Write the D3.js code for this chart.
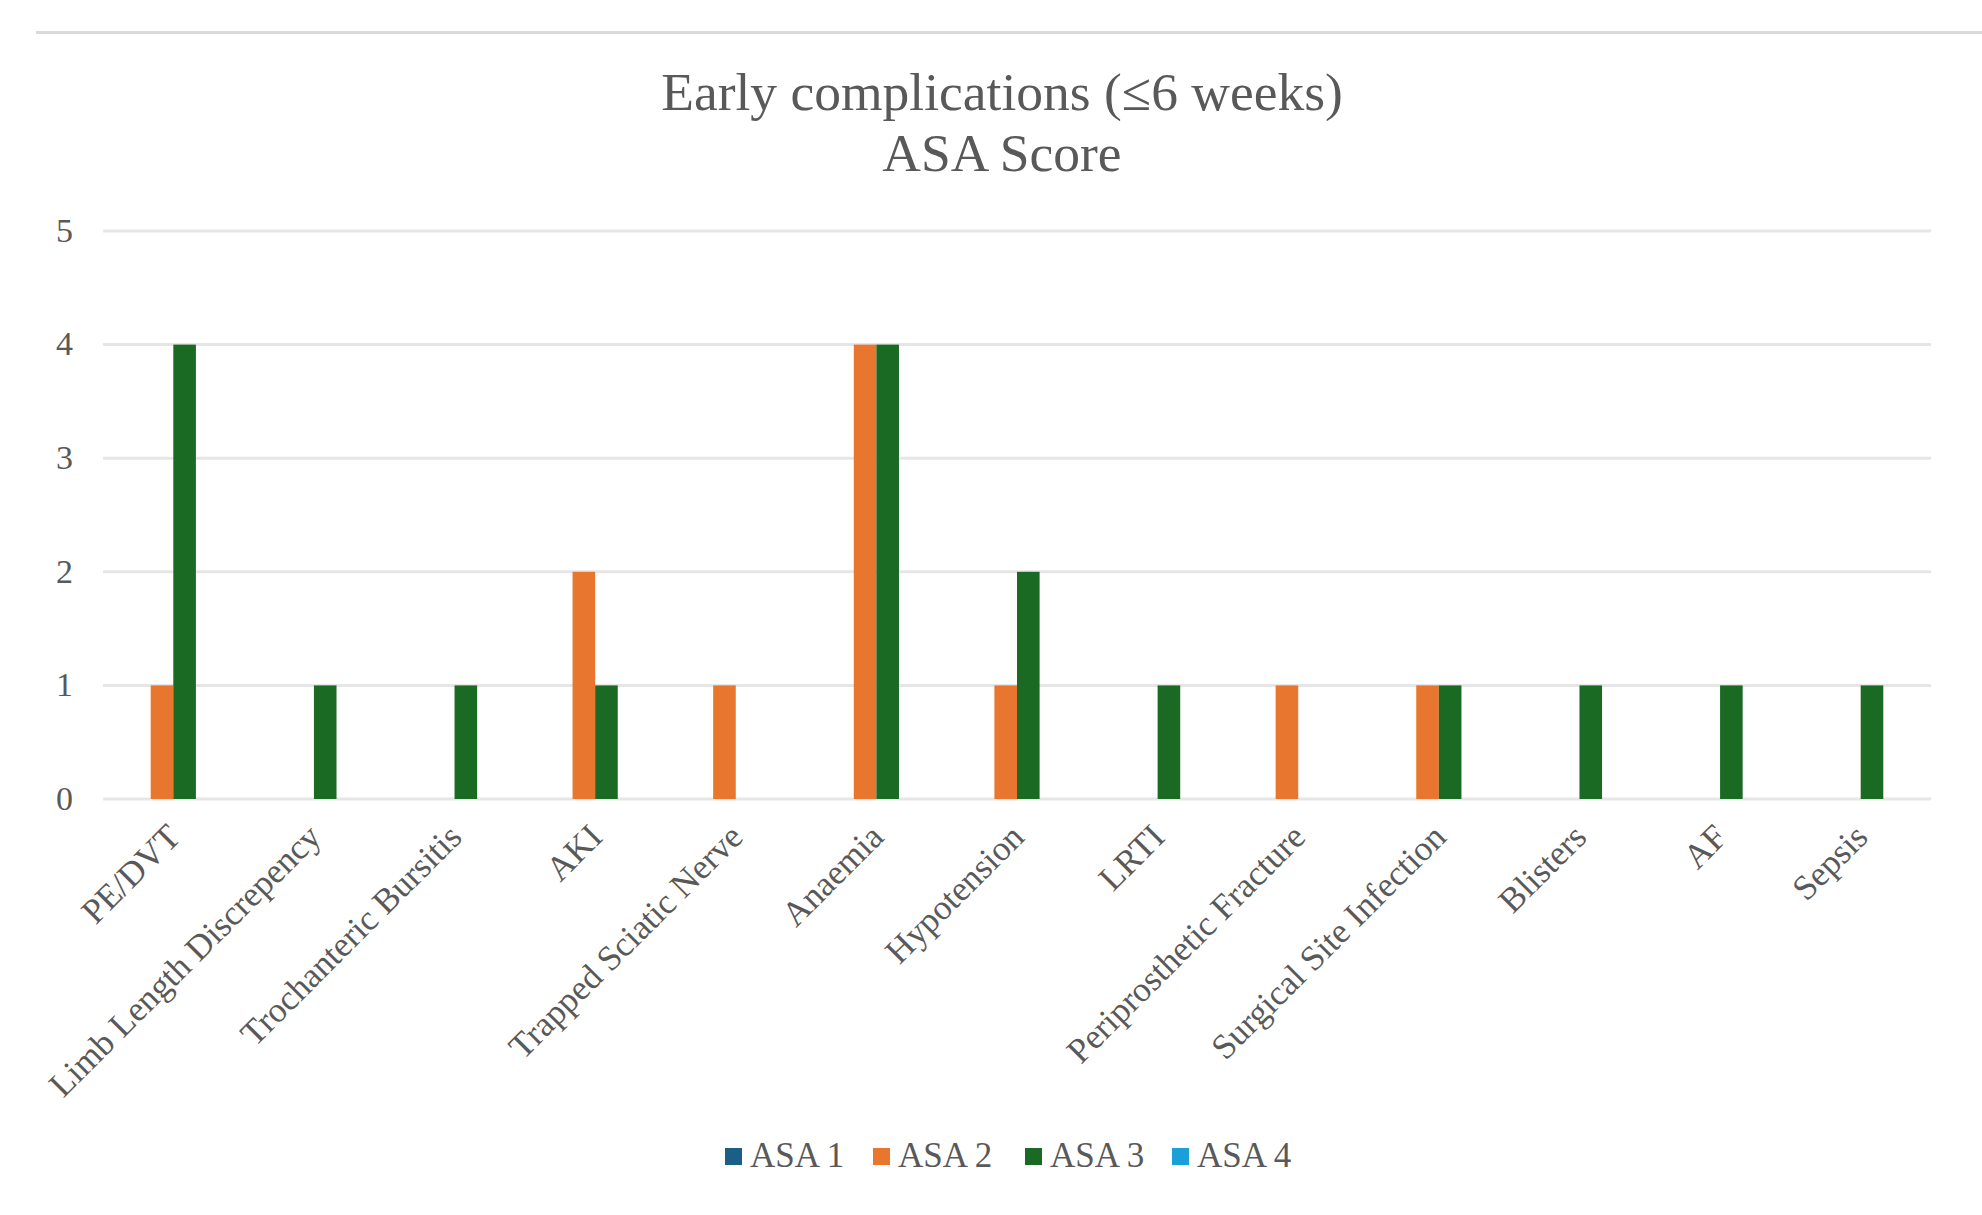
<!DOCTYPE html>
<html>
<head>
<meta charset="utf-8">
<script src="https://cdn.jsdelivr.net/npm/d3@7"></script>
<style>
  html, body { margin: 0; padding: 0; background: #fff; }
  svg { display: block; }
  text { font-family: "Liberation Serif", "Times New Roman", serif; fill: #595959; }
</style>
</head>
<body>
<svg id="chart" width="1982" height="1215"></svg>
<script>
const categories = ["PE/DVT", "Limb Length Discrepency", "Trochanteric Bursitis", "AKI",
  "Trapped Sciatic Nerve", "Anaemia", "Hypotension", "LRTI", "Periprosthetic Fracture",
  "Surgical Site Infection", "Blisters", "AF", "Sepsis"];
const seriesNames = ["ASA 1", "ASA 2", "ASA 3", "ASA 4"];
const asa1 = [0,0,0,0,0,0,0,0,0,0,0,0,0];
const asa2 = [1,0,0,2,1,4,1,0,1,1,0,0,0];
const asa3 = [4,1,1,1,0,4,2,1,0,1,1,1,1];
const asa4 = [0,0,0,0,0,0,0,0,0,0,0,0,0];
const yTicks = [0,1,2,3,4,5];
const seriesColors = ["#1B5F87", "#E9762F", "#1B6A23", "#1A9FD9"];
const titleLines = ["Early complications (\u22646 weeks)", "ASA Score"];

const values = [asa1, asa2, asa3, asa4];
const svg = d3.select("#chart");

// top separator line
svg.append("rect").attr("x", 36).attr("y", 31).attr("width", 1982 - 36).attr("height", 3).attr("fill", "#d9d9d9");

const plotL = 103, plotR = 1931, plotT = 231, plotB = 799;
const x0 = d3.scaleBand().domain(categories).range([plotL, plotR]).paddingInner(0).paddingOuter(0);
const barW = 22.6;
const gap = x0.bandwidth() - barW * 4;
const x1 = d3.scaleBand().domain(seriesNames).range([gap / 2, x0.bandwidth() - gap / 2]);
const y = d3.scaleLinear().domain([0, 5]).range([plotB, plotT]);

// gridlines
svg.append("g").selectAll("line").data(yTicks).join("line")
  .attr("x1", plotL).attr("x2", plotR)
  .attr("y1", d => y(d)).attr("y2", d => y(d))
  .attr("stroke", "#e6e6e6").attr("stroke-width", 3);

// y axis labels
const yAxis = svg.append("g").attr("transform", `translate(${plotL},0)`)
  .call(d3.axisLeft(y).tickValues(yTicks).tickSize(0).tickPadding(30).tickFormat(d3.format("d")));
yAxis.select(".domain").remove();
yAxis.selectAll("text").style("font-size", "34px").style("font-family", '"Liberation Serif", serif').attr("fill", "#595959").attr("dy", "0.3em");

// bars
const groups = svg.append("g").selectAll("g").data(categories).join("g")
  .attr("transform", d => `translate(${x0(d)},0)`);
groups.selectAll("rect")
  .data((c, i) => seriesNames.map((s, j) => ({ s, v: values[j][i], color: seriesColors[j] })))
  .join("rect")
  .attr("x", d => x1(d.s))
  .attr("width", x1.bandwidth())
  .attr("y", d => y(d.v))
  .attr("height", d => y(0) - y(d.v))
  .attr("fill", d => d.color);

// category labels
const xAxis = svg.append("g").attr("transform", `translate(0,${plotB})`)
  .call(d3.axisBottom(x0).tickSize(0).tickPadding(0));
xAxis.select(".domain").remove();
xAxis.selectAll("text")
  .style("font-size", "35px").style("font-family", '"Liberation Serif", serif').attr("fill", "#595959")
  .attr("text-anchor", "end")
  .attr("y", 0).attr("dy", 0)
  .attr("transform", "translate(9,40) rotate(-45)");

// title
svg.append("g").selectAll("text").data(titleLines).join("text")
  .attr("x", 1002).attr("y", (d, i) => 110 + i * 61)
  .attr("text-anchor", "middle")
  .style("font-size", "53.5px")
  .text(d => d);

// legend
const legendX = [725, 873, 1025, 1172];
const legend = svg.append("g").selectAll("g").data(seriesNames).join("g")
  .attr("transform", (d, i) => `translate(${legendX[i]},1148)`);
legend.append("rect").attr("width", 17).attr("height", 17).attr("fill", (d, i) => seriesColors[i]);
legend.append("text").attr("x", 25).attr("y", 19).style("font-size", "35px").text(d => d);
</script>
</body>
</html>
